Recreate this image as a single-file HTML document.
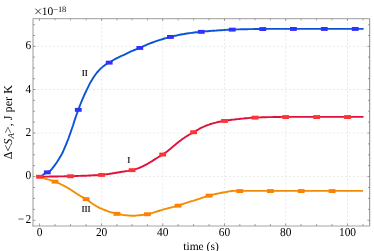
<!DOCTYPE html>
<html><head><meta charset="utf-8"><title>plot</title><style>html,body{margin:0;padding:0;background:#fff;width:374px;height:251px;overflow:hidden;font-family:"Liberation Serif",serif}</style></head><body>
<svg width="374" height="251" viewBox="0 0 374 251" style="position:absolute;left:0;top:0;filter:blur(0.2px)">
<rect width="374" height="251" fill="#fff"/>
<g stroke="#eaeaea" stroke-width="0.95" stroke-dasharray="2.1,1.9" fill="none"><line x1="101.6" y1="18.7" x2="101.6" y2="226.0"/><line x1="162.7" y1="18.7" x2="162.7" y2="226.0"/><line x1="224.5" y1="18.7" x2="224.5" y2="226.0"/><line x1="285.7" y1="18.7" x2="285.7" y2="226.0"/><line x1="347.5" y1="18.7" x2="347.5" y2="226.0"/><line x1="33.0" y1="176.5" x2="369.7" y2="176.5"/><line x1="33.0" y1="133.0" x2="369.7" y2="133.0"/><line x1="33.0" y1="89.5" x2="369.7" y2="89.5"/><line x1="33.0" y1="46.4" x2="369.7" y2="46.4"/></g>
<g fill="none"><line x1="33.0" y1="18.7" x2="369.7" y2="18.7" stroke="#747474" stroke-width="0.7"/><line x1="369.7" y1="18.7" x2="369.7" y2="226.0" stroke="#6c6c6c" stroke-width="0.8"/><line x1="33.0" y1="18.4" x2="33.0" y2="226.6" stroke="#b2b2b2" stroke-width="1.3"/><line x1="32.4" y1="226.0" x2="370.0" y2="226.0" stroke="#a6a6a6" stroke-width="1.05"/></g>
<g stroke="#6a6a6a" stroke-width="0.6" fill="none"><line x1="39.5" y1="226.0" x2="39.5" y2="223.4"/><line x1="39.5" y1="18.7" x2="39.5" y2="20.999999999999996"/><line x1="55.0" y1="226.0" x2="55.0" y2="224.0"/><line x1="55.0" y1="18.7" x2="55.0" y2="20.4"/><line x1="70.5" y1="226.0" x2="70.5" y2="224.0"/><line x1="70.5" y1="18.7" x2="70.5" y2="20.4"/><line x1="86.1" y1="226.0" x2="86.1" y2="224.0"/><line x1="86.1" y1="18.7" x2="86.1" y2="20.4"/><line x1="101.6" y1="226.0" x2="101.6" y2="223.4"/><line x1="101.6" y1="18.7" x2="101.6" y2="20.999999999999996"/><line x1="116.9" y1="226.0" x2="116.9" y2="224.0"/><line x1="116.9" y1="18.7" x2="116.9" y2="20.4"/><line x1="132.1" y1="226.0" x2="132.1" y2="224.0"/><line x1="132.1" y1="18.7" x2="132.1" y2="20.4"/><line x1="147.4" y1="226.0" x2="147.4" y2="224.0"/><line x1="147.4" y1="18.7" x2="147.4" y2="20.4"/><line x1="162.7" y1="226.0" x2="162.7" y2="223.4"/><line x1="162.7" y1="18.7" x2="162.7" y2="20.999999999999996"/><line x1="178.1" y1="226.0" x2="178.1" y2="224.0"/><line x1="178.1" y1="18.7" x2="178.1" y2="20.4"/><line x1="193.6" y1="226.0" x2="193.6" y2="224.0"/><line x1="193.6" y1="18.7" x2="193.6" y2="20.4"/><line x1="209.1" y1="226.0" x2="209.1" y2="224.0"/><line x1="209.1" y1="18.7" x2="209.1" y2="20.4"/><line x1="224.5" y1="226.0" x2="224.5" y2="223.4"/><line x1="224.5" y1="18.7" x2="224.5" y2="20.999999999999996"/><line x1="239.8" y1="226.0" x2="239.8" y2="224.0"/><line x1="239.8" y1="18.7" x2="239.8" y2="20.4"/><line x1="255.1" y1="226.0" x2="255.1" y2="224.0"/><line x1="255.1" y1="18.7" x2="255.1" y2="20.4"/><line x1="270.4" y1="226.0" x2="270.4" y2="224.0"/><line x1="270.4" y1="18.7" x2="270.4" y2="20.4"/><line x1="285.7" y1="226.0" x2="285.7" y2="223.4"/><line x1="285.7" y1="18.7" x2="285.7" y2="20.999999999999996"/><line x1="301.1" y1="226.0" x2="301.1" y2="224.0"/><line x1="301.1" y1="18.7" x2="301.1" y2="20.4"/><line x1="316.6" y1="226.0" x2="316.6" y2="224.0"/><line x1="316.6" y1="18.7" x2="316.6" y2="20.4"/><line x1="332.1" y1="226.0" x2="332.1" y2="224.0"/><line x1="332.1" y1="18.7" x2="332.1" y2="20.4"/><line x1="347.5" y1="226.0" x2="347.5" y2="223.4"/><line x1="347.5" y1="18.7" x2="347.5" y2="20.999999999999996"/><line x1="362.9" y1="226.0" x2="362.9" y2="224.0"/><line x1="362.9" y1="18.7" x2="362.9" y2="20.4"/><line x1="33.0" y1="220.3" x2="35.6" y2="220.3"/><line x1="369.7" y1="220.3" x2="367.40000000000003" y2="220.3"/><line x1="33.0" y1="209.4" x2="35.0" y2="209.4"/><line x1="369.7" y1="209.4" x2="368.0" y2="209.4"/><line x1="33.0" y1="198.4" x2="35.0" y2="198.4"/><line x1="369.7" y1="198.4" x2="368.0" y2="198.4"/><line x1="33.0" y1="187.5" x2="35.0" y2="187.5"/><line x1="369.7" y1="187.5" x2="368.0" y2="187.5"/><line x1="33.0" y1="176.5" x2="35.6" y2="176.5"/><line x1="369.7" y1="176.5" x2="367.40000000000003" y2="176.5"/><line x1="33.0" y1="165.6" x2="35.0" y2="165.6"/><line x1="369.7" y1="165.6" x2="368.0" y2="165.6"/><line x1="33.0" y1="154.8" x2="35.0" y2="154.8"/><line x1="369.7" y1="154.8" x2="368.0" y2="154.8"/><line x1="33.0" y1="143.9" x2="35.0" y2="143.9"/><line x1="369.7" y1="143.9" x2="368.0" y2="143.9"/><line x1="33.0" y1="133.0" x2="35.6" y2="133.0"/><line x1="369.7" y1="133.0" x2="367.40000000000003" y2="133.0"/><line x1="33.0" y1="122.1" x2="35.0" y2="122.1"/><line x1="369.7" y1="122.1" x2="368.0" y2="122.1"/><line x1="33.0" y1="111.2" x2="35.0" y2="111.2"/><line x1="369.7" y1="111.2" x2="368.0" y2="111.2"/><line x1="33.0" y1="100.4" x2="35.0" y2="100.4"/><line x1="369.7" y1="100.4" x2="368.0" y2="100.4"/><line x1="33.0" y1="89.5" x2="35.6" y2="89.5"/><line x1="369.7" y1="89.5" x2="367.40000000000003" y2="89.5"/><line x1="33.0" y1="78.7" x2="35.0" y2="78.7"/><line x1="369.7" y1="78.7" x2="368.0" y2="78.7"/><line x1="33.0" y1="67.9" x2="35.0" y2="67.9"/><line x1="369.7" y1="67.9" x2="368.0" y2="67.9"/><line x1="33.0" y1="57.1" x2="35.0" y2="57.1"/><line x1="369.7" y1="57.1" x2="368.0" y2="57.1"/><line x1="33.0" y1="46.4" x2="35.6" y2="46.4"/><line x1="369.7" y1="46.4" x2="367.40000000000003" y2="46.4"/><line x1="33.0" y1="35.5" x2="35.0" y2="35.5"/><line x1="369.7" y1="35.5" x2="368.0" y2="35.5"/><line x1="33.0" y1="24.7" x2="35.0" y2="24.7"/><line x1="369.7" y1="24.7" x2="368.0" y2="24.7"/></g>
<path d="M41.5,176.3 L43.0,174.8 L44.5,173.8 L46.0,173.0 L47.5,172.1 L49.0,171.4 L50.5,170.5 L52.0,168.9 L53.5,166.9 L55.0,164.9 L56.5,162.8 L58.0,160.5 L59.5,158.1 L61.0,155.6 L62.5,152.8 L64.0,149.4 L65.5,145.8 L67.0,142.1 L68.5,138.3 L70.0,134.1 L71.5,129.8 L73.0,125.5 L74.5,120.6 L76.0,116.2 L77.5,112.0 L79.0,107.9 L80.5,104.0 L82.0,100.4 L83.5,96.9 L85.0,93.5 L86.5,90.4 L88.0,87.3 L89.5,84.1 L91.0,81.4 L92.5,79.0 L94.0,76.7 L95.5,74.5 L97.0,72.5 L98.5,70.8 L100.0,69.3 L101.5,67.9 L103.0,66.6 L104.5,65.4 L106.0,64.3 L107.5,63.5 L109.0,62.7 L110.5,61.8 L112.0,60.9 L113.5,60.0 L115.0,59.2 L116.5,58.4 L118.0,57.6 L119.5,56.9 L121.0,56.2 L122.5,55.5 L124.0,54.8 L125.5,54.1 L127.0,53.3 L128.5,52.6 L130.0,51.9 L131.5,51.2 L133.0,50.6 L134.5,50.0 L136.0,49.4 L137.5,48.8 L139.0,48.2 L140.5,47.5 L142.0,46.9 L143.5,46.2 L145.0,45.5 L146.5,44.9 L148.0,44.2 L149.5,43.6 L151.0,43.0 L152.5,42.5 L154.0,41.9 L155.5,41.4 L157.0,40.9 L158.5,40.4 L160.0,39.9 L161.5,39.5 L163.0,39.0 L164.5,38.5 L166.0,38.1 L167.5,37.7 L169.0,37.3 L170.5,36.9 L172.0,36.5 L173.5,36.1 L175.0,35.8 L176.5,35.5 L178.0,35.1 L179.5,34.8 L181.0,34.5 L182.5,34.2 L184.0,34.0 L185.5,33.7 L187.0,33.5 L188.5,33.3 L190.0,33.1 L191.5,32.9 L193.0,32.7 L194.5,32.5 L196.0,32.3 L197.5,32.2 L199.0,32.0 L200.5,31.9 L202.0,31.7 L203.5,31.6 L205.0,31.4 L206.5,31.3 L208.0,31.2 L209.5,31.0 L211.0,30.9 L212.5,30.8 L214.0,30.7 L215.5,30.6 L217.0,30.5 L218.5,30.4 L220.0,30.3 L221.5,30.2 L223.0,30.1 L224.5,30.0 L226.0,29.9 L227.5,29.8 L229.0,29.7 L230.5,29.7 L232.0,29.6 L233.5,29.5 L235.0,29.5 L236.5,29.4 L238.0,29.4 L239.5,29.4 L241.0,29.3 L242.5,29.3 L244.0,29.2 L245.5,29.2 L247.0,29.2 L248.5,29.1 L250.0,29.1 L251.5,29.1 L253.0,29.1 L254.5,29.0 L256.0,29.0 L257.5,29.0 L259.0,29.0 L260.5,29.0 L262.0,29.0 L263.5,29.0 L265.0,29.0 L266.5,28.9 L268.0,28.9 L269.5,28.9 L271.0,28.9 L272.5,28.9 L274.0,28.9 L275.5,28.9 L277.0,28.9 L278.5,28.9 L280.0,28.9 L281.5,28.9 L283.0,28.9 L284.5,28.9 L286.0,28.9 L287.5,28.9 L289.0,28.9 L290.5,28.9 L292.0,28.9 L293.5,28.9 L295.0,28.9 L296.5,28.9 L298.0,28.9 L299.5,28.9 L301.0,28.9 L302.5,28.9 L304.0,28.9 L305.5,28.9 L307.0,28.9 L308.5,28.9 L310.0,28.9 L311.5,28.9 L313.0,28.9 L314.5,28.9 L316.0,28.9 L317.5,28.9 L319.0,28.9 L320.5,28.9 L322.0,28.9 L323.5,28.9 L325.0,28.9 L326.5,28.9 L328.0,28.9 L329.5,28.9 L331.0,28.9 L332.5,28.9 L334.0,28.9 L335.5,28.9 L337.0,28.9 L338.5,28.9 L340.0,28.9 L341.5,28.9 L343.0,28.9 L344.5,28.9 L346.0,28.9 L347.5,28.9 L349.0,28.9 L350.5,28.9 L352.0,28.9 L353.5,28.9 L355.0,28.9 L356.5,28.9 L358.0,28.9 L359.5,28.9 L361.0,28.9 L362.5,28.9 L363.6,28.9" fill="none" stroke="#0a55d6" stroke-width="1.9" stroke-linejoin="round" stroke-linecap="butt"/>
<rect x="43.9" y="170.4" width="6.8" height="3.9" fill="#3030ff"/>
<rect x="74.9" y="107.9" width="6.8" height="3.9" fill="#3030ff"/>
<rect x="105.8" y="60.7" width="6.8" height="3.9" fill="#3030ff"/>
<rect x="136.4" y="46.0" width="6.8" height="3.9" fill="#3030ff"/>
<rect x="167.0" y="35.0" width="6.8" height="3.9" fill="#3030ff"/>
<rect x="197.9" y="29.9" width="6.8" height="3.9" fill="#3030ff"/>
<rect x="228.8" y="27.7" width="6.8" height="3.9" fill="#3030ff"/>
<rect x="259.4" y="27.1" width="6.8" height="3.9" fill="#3030ff"/>
<rect x="290.0" y="27.0" width="6.8" height="3.9" fill="#3030ff"/>
<rect x="320.9" y="27.0" width="6.8" height="3.9" fill="#3030ff"/>
<rect x="351.8" y="27.0" width="6.8" height="3.9" fill="#3030ff"/>
<path d="M40.0,176.8 L41.5,177.3 L43.0,177.8 L44.5,178.3 L46.0,178.8 L47.5,179.3 L49.0,179.7 L50.5,180.2 L52.0,180.6 L53.5,181.0 L55.0,181.6 L56.5,182.2 L58.0,182.8 L59.5,183.5 L61.0,184.3 L62.5,185.0 L64.0,185.8 L65.5,186.6 L67.0,187.5 L68.5,188.4 L70.0,189.3 L71.5,190.2 L73.0,191.2 L74.5,192.3 L76.0,193.3 L77.5,194.3 L79.0,195.2 L80.5,196.0 L82.0,196.8 L83.5,197.6 L85.0,198.4 L86.5,199.4 L88.0,200.4 L89.5,201.5 L91.0,202.7 L92.5,203.7 L94.0,204.7 L95.5,205.6 L97.0,206.5 L98.5,207.3 L100.0,208.1 L101.5,208.7 L103.0,209.4 L104.5,210.0 L106.0,210.5 L107.5,211.1 L109.0,211.6 L110.5,212.1 L112.0,212.5 L113.5,212.9 L115.0,213.3 L116.5,213.7 L118.0,214.0 L119.5,214.3 L121.0,214.6 L122.5,214.9 L124.0,215.1 L125.5,215.2 L127.0,215.4 L128.5,215.5 L130.0,215.6 L131.5,215.7 L133.0,215.7 L134.5,215.7 L136.0,215.6 L137.5,215.4 L139.0,215.3 L140.5,215.2 L142.0,215.0 L143.5,214.8 L145.0,214.6 L146.5,214.3 L148.0,214.0 L149.5,213.7 L151.0,213.3 L152.5,212.8 L154.0,212.4 L155.5,211.9 L157.0,211.5 L158.5,211.0 L160.0,210.5 L161.5,210.1 L163.0,209.6 L164.5,209.2 L166.0,208.8 L167.5,208.4 L169.0,208.0 L170.5,207.6 L172.0,207.3 L173.5,206.9 L175.0,206.5 L176.5,206.1 L178.0,205.6 L179.5,205.2 L181.0,204.7 L182.5,204.2 L184.0,203.7 L185.5,203.2 L187.0,202.7 L188.5,202.2 L190.0,201.7 L191.5,201.2 L193.0,200.8 L194.5,200.3 L196.0,199.8 L197.5,199.3 L199.0,198.8 L200.5,198.3 L202.0,197.8 L203.5,197.3 L205.0,196.8 L206.5,196.3 L208.0,195.8 L209.5,195.4 L211.0,195.0 L212.5,194.7 L214.0,194.4 L215.5,194.0 L217.0,193.7 L218.5,193.4 L220.0,193.1 L221.5,192.8 L223.0,192.5 L224.5,192.2 L226.0,192.0 L227.5,191.7 L229.0,191.4 L230.5,191.2 L232.0,191.0 L233.5,190.9 L235.0,190.9 L236.5,190.9 L238.0,190.9 L239.5,190.9 L241.0,190.9 L242.5,190.9 L244.0,190.9 L245.5,190.9 L247.0,190.9 L248.5,190.9 L250.0,190.9 L251.5,190.9 L253.0,190.9 L254.5,190.9 L256.0,190.9 L257.5,190.9 L259.0,190.9 L260.5,190.9 L262.0,190.9 L263.5,190.9 L265.0,190.9 L266.5,190.9 L268.0,190.9 L269.5,190.9 L271.0,190.9 L272.5,190.9 L274.0,190.9 L275.5,190.9 L277.0,190.9 L278.5,190.9 L280.0,190.9 L281.5,190.9 L283.0,190.9 L284.5,190.9 L286.0,190.9 L287.5,190.9 L289.0,190.9 L290.5,190.9 L292.0,190.9 L293.5,190.9 L295.0,190.9 L296.5,190.9 L298.0,190.9 L299.5,190.9 L301.0,190.9 L302.5,190.9 L304.0,190.9 L305.5,190.9 L307.0,190.9 L308.5,190.9 L310.0,190.9 L311.5,190.9 L313.0,190.9 L314.5,190.9 L316.0,190.9 L317.5,190.9 L319.0,190.9 L320.5,190.9 L322.0,190.9 L323.5,190.9 L325.0,190.9 L326.5,190.9 L328.0,190.9 L329.5,190.9 L331.0,190.9 L332.5,190.9 L334.0,190.9 L335.5,190.9 L337.0,190.9 L338.5,190.9 L340.0,190.9 L341.5,190.9 L343.0,190.9 L344.5,190.9 L346.0,190.9 L347.5,190.9 L349.0,190.9 L350.5,190.9 L352.0,190.9 L353.5,190.9 L355.0,190.9 L356.5,190.9 L358.0,190.9 L359.5,190.9 L361.0,190.9 L362.5,190.9 L363.0,190.9" fill="none" stroke="#f28c00" stroke-width="1.9" stroke-linejoin="round" stroke-linecap="butt"/>
<rect x="51.6" y="179.7" width="6.8" height="3.9" fill="#ff8000"/>
<rect x="82.7" y="197.2" width="6.8" height="3.9" fill="#ff8000"/>
<rect x="113.5" y="211.9" width="6.8" height="3.9" fill="#ff8000"/>
<rect x="144.0" y="212.3" width="6.8" height="3.9" fill="#ff8000"/>
<rect x="174.7" y="203.7" width="6.8" height="3.9" fill="#ff8000"/>
<rect x="205.7" y="193.7" width="6.8" height="3.9" fill="#ff8000"/>
<rect x="236.4" y="189.1" width="6.8" height="3.9" fill="#ff8000"/>
<rect x="267.0" y="189.1" width="6.8" height="3.9" fill="#ff8000"/>
<rect x="297.8" y="189.1" width="6.8" height="3.9" fill="#ff8000"/>
<rect x="328.7" y="189.1" width="6.8" height="3.9" fill="#ff8000"/>
<path d="M39.6,176.6 L41.1,176.6 L42.6,176.6 L44.1,176.6 L45.6,176.6 L47.1,176.6 L48.6,176.6 L50.1,176.5 L51.6,176.5 L53.1,176.5 L54.6,176.5 L56.1,176.5 L57.6,176.5 L59.1,176.4 L60.6,176.4 L62.1,176.4 L63.6,176.4 L65.1,176.3 L66.6,176.3 L68.1,176.3 L69.6,176.2 L71.1,176.2 L72.6,176.1 L74.1,176.1 L75.6,176.0 L77.1,176.0 L78.6,175.9 L80.1,175.9 L81.6,175.8 L83.1,175.8 L84.6,175.7 L86.1,175.7 L87.6,175.6 L89.1,175.5 L90.6,175.5 L92.1,175.4 L93.6,175.3 L95.1,175.3 L96.6,175.2 L98.1,175.1 L99.6,175.0 L101.1,174.9 L102.6,174.8 L104.1,174.6 L105.6,174.4 L107.1,174.2 L108.6,174.0 L110.1,173.7 L111.6,173.5 L113.1,173.2 L114.6,173.0 L116.1,172.7 L117.6,172.5 L119.1,172.3 L120.6,172.0 L122.1,171.8 L123.6,171.6 L125.1,171.3 L126.6,171.1 L128.1,170.9 L129.6,170.6 L131.1,170.3 L132.6,170.0 L134.1,169.6 L135.6,169.1 L137.1,168.6 L138.6,168.1 L140.1,167.5 L141.6,166.9 L143.1,166.2 L144.6,165.4 L146.1,164.6 L147.6,163.8 L149.1,162.9 L150.6,162.0 L152.1,161.1 L153.6,160.1 L155.1,159.1 L156.6,158.2 L158.1,157.3 L159.6,156.4 L161.1,155.5 L162.6,154.6 L164.1,153.6 L165.6,152.5 L167.1,151.4 L168.6,150.2 L170.1,149.1 L171.6,147.8 L173.1,146.6 L174.6,145.3 L176.1,144.0 L177.6,142.8 L179.1,141.6 L180.6,140.5 L182.1,139.3 L183.6,138.3 L185.1,137.2 L186.6,136.3 L188.1,135.4 L189.6,134.5 L191.1,133.6 L192.6,132.8 L194.1,131.9 L195.6,131.0 L197.1,130.1 L198.6,129.3 L200.1,128.4 L201.6,127.7 L203.1,127.0 L204.6,126.3 L206.1,125.7 L207.6,125.1 L209.1,124.6 L210.6,124.0 L212.1,123.6 L213.6,123.2 L215.1,122.8 L216.6,122.4 L218.1,122.0 L219.6,121.7 L221.1,121.4 L222.6,121.1 L224.1,120.9 L225.6,120.6 L227.1,120.4 L228.6,120.2 L230.1,120.0 L231.6,119.8 L233.1,119.6 L234.6,119.5 L236.1,119.3 L237.6,119.1 L239.1,119.0 L240.6,118.8 L242.1,118.6 L243.6,118.5 L245.1,118.3 L246.6,118.2 L248.1,118.1 L249.6,117.9 L251.1,117.8 L252.6,117.7 L254.1,117.6 L255.6,117.6 L257.1,117.5 L258.6,117.4 L260.1,117.4 L261.6,117.3 L263.1,117.2 L264.6,117.2 L266.1,117.2 L267.6,117.1 L269.1,117.1 L270.6,117.1 L272.1,117.1 L273.6,117.0 L275.1,117.0 L276.6,117.0 L278.1,117.0 L279.6,117.0 L281.1,116.9 L282.6,116.9 L284.1,116.9 L285.6,116.9 L287.1,116.9 L288.6,116.9 L290.1,116.9 L291.6,116.9 L293.1,116.9 L294.6,116.9 L296.1,116.9 L297.6,116.9 L299.1,116.9 L300.6,116.9 L302.1,116.9 L303.6,116.9 L305.1,116.9 L306.6,116.9 L308.1,116.9 L309.6,116.9 L311.1,116.9 L312.6,116.9 L314.1,116.9 L315.6,116.9 L317.1,116.9 L318.6,116.9 L320.1,116.9 L321.6,116.9 L323.1,116.9 L324.6,116.9 L326.1,116.9 L327.6,116.9 L329.1,116.9 L330.6,116.9 L332.1,116.9 L333.6,116.9 L335.1,116.9 L336.6,116.9 L338.1,116.9 L339.6,116.9 L341.1,116.9 L342.6,116.9 L344.1,116.9 L345.6,116.9 L347.1,116.9 L348.6,116.9 L350.1,116.9 L351.6,116.9 L353.1,116.9 L354.6,116.9 L356.1,116.9 L357.6,116.9 L359.1,116.9 L360.6,116.9 L362.1,116.9 L363.5,116.9" fill="none" stroke="#e0103a" stroke-width="1.9" stroke-linejoin="round" stroke-linecap="butt"/>
<rect x="36.1" y="174.8" width="6.8" height="3.9" fill="#ff3333"/>
<rect x="67.1" y="174.3" width="6.8" height="3.9" fill="#ff3333"/>
<rect x="98.2" y="173.0" width="6.8" height="3.9" fill="#ff3333"/>
<rect x="128.7" y="168.2" width="6.8" height="3.9" fill="#ff3333"/>
<rect x="159.3" y="152.6" width="6.8" height="3.9" fill="#ff3333"/>
<rect x="190.2" y="130.3" width="6.8" height="3.9" fill="#ff3333"/>
<rect x="221.1" y="119.0" width="6.8" height="3.9" fill="#ff3333"/>
<rect x="251.7" y="115.7" width="6.8" height="3.9" fill="#ff3333"/>
<rect x="282.3" y="115.1" width="6.8" height="3.9" fill="#ff3333"/>
<rect x="313.2" y="115.1" width="6.8" height="3.9" fill="#ff3333"/>
<rect x="344.1" y="115.1" width="6.8" height="3.9" fill="#ff3333"/>
<g font-family="Liberation Serif, serif" fill="#000" style="text-rendering:geometricPrecision">
<text transform="translate(39.5,235.5) scale(0.95,1)" font-size="12" text-anchor="middle">0</text>
<text transform="translate(101.6,235.5) scale(0.95,1)" font-size="12" text-anchor="middle">20</text>
<text transform="translate(162.7,235.5) scale(0.95,1)" font-size="12" text-anchor="middle">40</text>
<text transform="translate(224.5,235.5) scale(0.95,1)" font-size="12" text-anchor="middle">60</text>
<text transform="translate(285.7,235.5) scale(0.95,1)" font-size="12" text-anchor="middle">80</text>
<text transform="translate(347.5,235.5) scale(0.95,1)" font-size="12" text-anchor="middle">100</text>
<text transform="translate(31.2,179.4) scale(0.95,1)" font-size="12" text-anchor="end">0</text>
<text transform="translate(31.2,135.9) scale(0.95,1)" font-size="12" text-anchor="end">2</text>
<text transform="translate(31.2,92.5) scale(0.95,1)" font-size="12" text-anchor="end">4</text>
<text transform="translate(31.2,49.3) scale(0.95,1)" font-size="12" text-anchor="end">6</text>
<text transform="translate(31.2,223.3) scale(0.95,1)" font-size="12" text-anchor="end">2</text>
<text transform="translate(17.8,223.3) scale(0.95,1)" font-size="12" text-anchor="start">−</text>
<path d="M35.4,8.7 L40.8,14.1 M40.8,8.7 L35.4,14.1" stroke="#1a1a1a" stroke-width="0.85" fill="none"/>
<text x="41.7" y="14.9" font-size="11.5">10<tspan font-size="8.4" dy="-3.2">−18</tspan></text>
<text x="201" y="250.2" font-size="11.5" text-anchor="middle">time (s)</text>
<text transform="translate(12,122.2) rotate(-90)" font-size="12.2" text-anchor="middle">Δ&lt;<tspan font-style="italic">S</tspan><tspan font-style="italic" font-size="8.8" dy="2.2">A</tspan><tspan dy="-2.2">&gt;, J per K</tspan></text>
<text x="128.8" y="162.7" font-size="9.2" fill="#000" stroke="#000" stroke-width="0.16" text-anchor="middle">I</text>
<text x="84.8" y="76.1" font-size="9.2" fill="#000" stroke="#000" stroke-width="0.16" text-anchor="middle">II</text>
<text x="86.0" y="211.9" font-size="9.2" fill="#000" stroke="#000" stroke-width="0.16" text-anchor="middle">III</text>
</g>
</svg>
</body></html>
